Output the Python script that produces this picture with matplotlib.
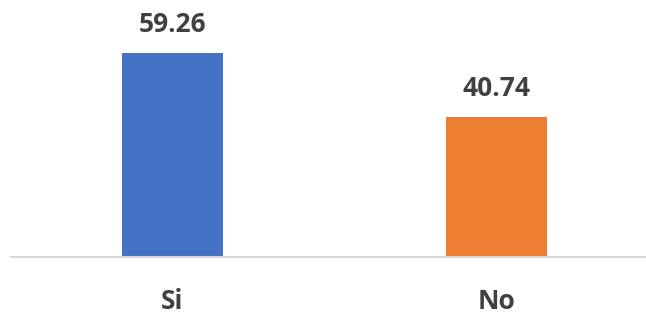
import matplotlib
matplotlib.use('Agg')
import matplotlib.pyplot as plt

categories = ['Si', 'No']
values = [59.26, 40.74]
colors = ['#4472C4', '#ED7D31']

fig = plt.figure(figsize=(6.46, 3.16), dpi=100)
ax = fig.add_axes([11 / 646, 59 / 316, 635 / 646, 257 / 316])

x_pos = range(len(categories))
bars = ax.bar(x_pos, values, width=0.31, color=colors)
for a, b in zip(x_pos, values):
    ax.annotate('%.2f' % b, (a, b), xytext=(0, 15), textcoords='offset points',
                ha='center', va='baseline', fontsize=19, fontweight='bold',
                family='Open Sans', color='#404040')

ax.set_xlim(-0.498, 1.461)
ax.set_ylim(0, 74.7)
ax.set_xticks(list(x_pos))
ax.set_xticklabels(categories, fontsize=19, fontweight='bold', family='Open Sans', color='#404040')
ax.tick_params(axis='x', length=0, pad=22)
ax.set_yticks([])
for side in ['top', 'right', 'left']:
    ax.spines[side].set_visible(False)
ax.spines['bottom'].set_color('#d9d9d9')
ax.spines['bottom'].set_linewidth(1.5)

fig.savefig('out.png', dpi=100)
